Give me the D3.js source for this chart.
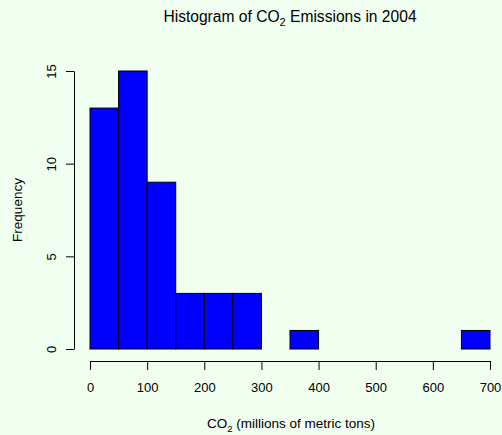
<!DOCTYPE html>
<html>
<head>
<meta charset="utf-8">
<script src="https://cdn.jsdelivr.net/npm/d3@7"></script>
<style>
  html, body { margin: 0; padding: 0; background: #F0FFF0; }
  svg { display: block; }
  text { font-family: "Liberation Sans", Arial, Helvetica, sans-serif; fill: #000; }
</style>
</head>
<body>
<script>
// Histogram bins (left edges, width 50) and counts
const binEdges = [0, 50, 100, 150, 200, 250, 300, 350, 400, 450, 500, 550, 600, 650, 700];
const counts = [13, 15, 9, 3, 3, 3, 0, 1, 0, 0, 0, 0, 0, 1];
const xTicks = [0, 100, 200, 300, 400, 500, 600, 700];
const yTicks = [0, 5, 10, 15];

const W = 502, H = 435;
const svg = d3.select("body").append("svg").attr("width", W).attr("height", H);

const x = d3.scaleLinear().domain([0, 700]).range([90, 490]);
const y = d3.scaleLinear().domain([0, 15]).range([349, 71]);

const bins = counts.map((c, i) => ({ x0: binEdges[i], x1: binEdges[i + 1], count: c }));

// Bars (empty bins collapse to a line on the baseline)
svg.append("g").selectAll("rect").data(bins).join("rect")
  .attr("x", d => x(d.x0))
  .attr("y", d => y(d.count))
  .attr("width", d => x(d.x1) - x(d.x0))
  .attr("height", d => y(0) - y(d.count))
  .attr("fill", "#0000FF")
  .attr("stroke", "#000")
  .attr("stroke-width", 1);

// X axis
const xAxis = d3.axisBottom(x).tickValues(xTicks).tickSize(9).tickPadding(13).tickSizeOuter(0);
const gx = svg.append("g").attr("transform", "translate(0,361)").call(xAxis);
gx.select(".domain").attr("stroke", "#000");
gx.selectAll(".tick line").attr("stroke", "#000");
gx.selectAll("text").attr("font-size", 13).attr("font-family", "Liberation Sans, Arial, sans-serif");

// Y axis
const yAxis = d3.axisLeft(y).tickValues(yTicks).tickSize(8).tickPadding(0).tickSizeOuter(0);
const gy = svg.append("g").attr("transform", "translate(74,0)").call(yAxis);
gy.select(".domain").attr("stroke", "#000");
gy.selectAll(".tick line").attr("stroke", "#000");
gy.selectAll("text")
  .attr("font-size", 13)
  .attr("font-family", "Liberation Sans, Arial, sans-serif")
  .attr("text-anchor", "middle")
  .attr("dy", null)
  .attr("x", null)
  .attr("transform", "translate(-23,0) rotate(-90)")
  .attr("dominant-baseline", "central");

// Title
const title = svg.append("text")
  .attr("x", 290).attr("y", 22)
  .attr("text-anchor", "middle")
  .attr("font-size", 15.6);
title.append("tspan").text("Histogram of CO");
title.append("tspan").text("2").attr("font-size", 11).attr("dy", 4);
title.append("tspan").text(" Emissions in 2004").attr("dy", -4);

// X axis title
const xt = svg.append("text")
  .attr("x", 291).attr("y", 428)
  .attr("text-anchor", "middle")
  .attr("font-size", 13.5);
xt.append("tspan").text("CO");
xt.append("tspan").text("2").attr("font-size", 9.5).attr("dy", 4);
xt.append("tspan").text(" (millions of metric tons)").attr("dy", -4);

// Y axis title
svg.append("text")
  .attr("transform", "translate(22,210) rotate(-90)")
  .attr("text-anchor", "middle")
  .attr("font-size", 13.5)
  .text("Frequency");
</script>
</body>
</html>
